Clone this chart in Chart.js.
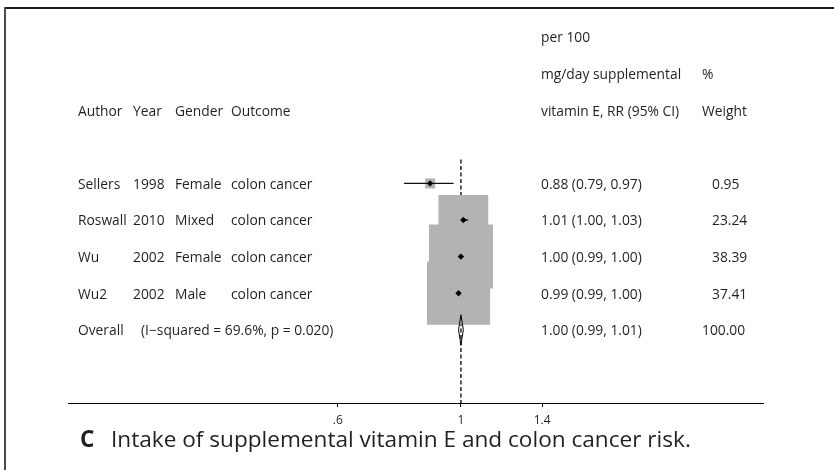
<!DOCTYPE html>
<html>
<head>
<meta charset="utf-8">
<script src="https://cdn.jsdelivr.net/npm/chart.js@4/dist/chart.umd.min.js"></script>
<style>
  html, body { margin: 0; padding: 0; background: #fff; }
  canvas { display: block; }
</style>
</head>
<body>
<canvas id="forest" width="834" height="470"></canvas>
<script>
// Study-level data
const authors  = ['Sellers', 'Roswall', 'Wu', 'Wu2'];
const years    = ['1998', '2010', '2002', '2002'];
const genders  = ['Female', 'Mixed', 'Female', 'Male'];
const outcomes = ['colon cancer', 'colon cancer', 'colon cancer', 'colon cancer'];
const rr       = [0.88, 1.01, 1.00, 0.99];
const lower    = [0.79, 1.00, 0.99, 0.99];
const upper    = [0.97, 1.03, 1.00, 1.00];
const weights  = [0.95, 23.24, 38.39, 37.41];

// Pooled estimate
const overallRR     = 1.00;
const overallLower  = 0.99;
const overallUpper  = 1.01;
const overallWeight = 100.00;
const heterogeneity = '(I\u2212squared = 69.6%, p = 0.020)';

// Axis
const xTicks      = [0.6, 1, 1.4];
const xTickLabels = ['.6', '1', '1.4'];

const headerRR     = ['per 100', 'mg/day supplemental', 'vitamin E, RR (95% CI)'];
const headerWeight = ['%', 'Weight'];
const headerLeft   = ['Author', 'Year', 'Gender', 'Outcome'];
const captionLetter = 'C';
const captionText   = 'Intake of supplemental vitamin E and colon cancer risk.';

const FONT = '"Open Sans", "DejaVu Sans", sans-serif';
const INK = '#231f20';
const firstRow = 4;                       // row index of first study
const overallRow = firstRow + authors.length;
const boxScale = 10.33;                   // box side = boxScale * sqrt(weight)
const textNudge = 1.5;                    // optical centring of table text on its row

const fmt = v => v.toFixed(2);

const boxes = rr.map((v, i) => ({ x: v, y: firstRow + i }));
const ciSets = rr.map((v, i) => ({
  type: 'scatter', showLine: true, order: 1,
  data: [{ x: lower[i], y: firstRow + i }, { x: upper[i], y: firstRow + i }],
  borderColor: '#111', borderWidth: 1.4, pointRadius: 0, clip: false
}));
const diamondHalf = 0.41;
const diamond = [
  { x: overallLower, y: overallRow },
  { x: overallRR, y: overallRow - diamondHalf },
  { x: overallUpper, y: overallRow },
  { x: overallRR, y: overallRow + diamondHalf },
  { x: overallLower, y: overallRow }
];

// Text columns and frame, drawn over the chart canvas
const tablePlugin = {
  id: 'table',
  beforeDraw(chart) {
    const ctx = chart.ctx;
    ctx.save();
    ctx.fillStyle = '#fff';
    ctx.fillRect(0, 0, chart.width, chart.height);
    ctx.fillStyle = '#1a1a1a';
    ctx.fillRect(4, 7, chart.width - 4, 2);
    ctx.fillStyle = '#4a4a4a';
    ctx.fillRect(4, 7, 2, chart.height - 7);
    ctx.restore();
  },
  afterDraw(chart) {
    const ctx = chart.ctx;
    const y = chart.scales.y;
    const rowY = r => y.getPixelForValue(r) + textNudge;
    ctx.save();
    ctx.fillStyle = INK;
    ctx.font = '13.8px ' + FONT;
    ctx.textBaseline = 'middle';
    ctx.textAlign = 'left';
    const colX = [78, 133, 175, 231];
    const rrX = 541, wX = 712, wHeadX = 702;

    // headers
    headerRR.forEach((t, i) => ctx.fillText(t, rrX, rowY(i)));
    headerWeight.forEach((t, i) => ctx.fillText(t, wHeadX, rowY(i + 1)));
    headerLeft.forEach((t, i) => ctx.fillText(t, colX[i], rowY(2)));

    // study rows
    authors.forEach((a, i) => {
      const py = rowY(firstRow + i);
      ctx.fillText(a, colX[0], py);
      ctx.fillText(years[i], colX[1], py);
      ctx.fillText(genders[i], colX[2], py);
      ctx.fillText(outcomes[i], colX[3], py);
      ctx.fillText(`${fmt(rr[i])} (${fmt(lower[i])}, ${fmt(upper[i])})`, rrX, py);
      ctx.fillText(fmt(weights[i]), wX, py);
    });

    // pooled row
    const oy = rowY(overallRow);
    ctx.fillText('Overall', colX[0], oy);
    ctx.fillText(heterogeneity, 141, oy);
    ctx.fillText(`${fmt(overallRR)} (${fmt(overallLower)}, ${fmt(overallUpper)})`, rrX, oy);
    ctx.fillText(fmt(overallWeight), wHeadX, oy);

    // caption
    ctx.font = 'bold 22.6px ' + FONT;
    ctx.fillText(captionLetter, 80, 441);
    ctx.font = '22.6px ' + FONT;
    ctx.fillText(captionText, 111, 441);
    ctx.restore();
  }
};

new Chart(document.getElementById('forest'), {
  type: 'scatter',
  data: {
    datasets: [
      {
        label: 'estimate', order: 0, data: boxes,
        pointStyle: 'rectRot', pointRadius: 3.2, backgroundColor: '#000',
        borderWidth: 0, clip: false
      },
      {
        label: 'overall', type: 'scatter', showLine: true, order: 0, data: diamond,
        borderColor: '#000', borderWidth: 1, pointRadius: 0, fill: false, clip: false
      },
      ...ciSets,
      {
        label: 'weight', order: 2, data: boxes,
        pointStyle: 'rect',
        pointRadius: ctx => boxScale * Math.sqrt(weights[ctx.dataIndex]) / (2 * Math.SQRT1_2),
        backgroundColor: '#b3b3b3', borderWidth: 0, clip: false
      },
      {
        label: 'pooled line', type: 'scatter', showLine: true, order: 3,
        data: [{ x: overallRR, y: 3.35 }, { x: overallRR, y: 10 }],
        borderColor: '#000', borderWidth: 1.3, borderDash: [4, 2.5], pointRadius: 0, clip: false
      }
    ]
  },
  options: {
    responsive: false,
    animation: false,
    events: [],
    layout: { autoPadding: false, padding: { left: 68, right: 71, top: 37, bottom: 0 } },
    plugins: { legend: { display: false }, tooltip: { enabled: false } },
    scales: {
      x: {
        type: 'logarithmic',
        min: 0.196, max: 3.5,
        afterBuildTicks: s => { s.ticks = xTicks.map(v => ({ value: v })); },
        afterFit: s => { s.height = 67; },
        grid: { drawOnChartArea: false, drawTicks: true, tickLength: 4, color: '#000', lineWidth: 1 },
        border: { display: true, color: '#000', width: 1 },
        ticks: {
          autoSkip: false, maxRotation: 0, padding: 6, color: INK,
          font: { family: FONT, size: 12 },
          callback: (v, i) => xTickLabels[i]
        }
      },
      y: { display: false, min: 0, max: 10, reverse: true }
    }
  },
  plugins: [tablePlugin]
});
</script>
</body>
</html>
